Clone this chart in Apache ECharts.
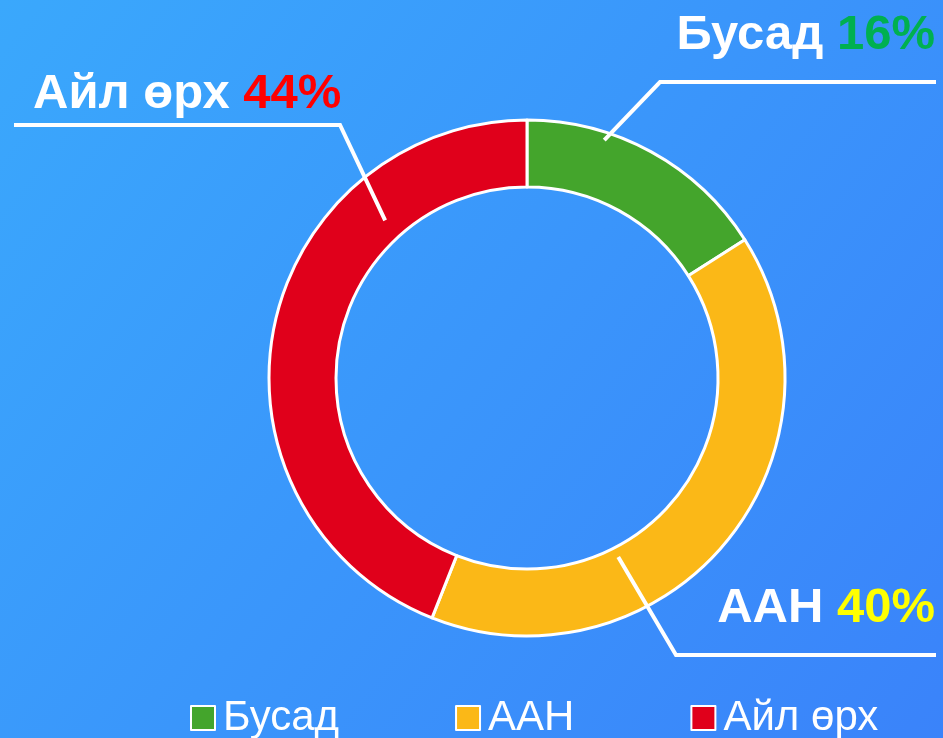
<!DOCTYPE html>
<html>
<head>
<meta charset="utf-8">
<script src="https://cdn.jsdelivr.net/npm/echarts@6/dist/echarts.min.js"></script>
<style>
    html, body { margin: 0; padding: 0; }
    #main { width: 943px; height: 738px; }
</style>
</head>
<body>
<div id="main"></div>
<script>
    // data
    var names = ['Бусад', 'ААН', 'Айл өрх'];
    var values = [16, 40, 44];
    var sliceColors = ['#44A52C', '#FBB817', '#E0001B'];
    var pctColors = ['#00B050', '#FFFF00', '#FF0000'];

    var chart = echarts.init(document.getElementById('main'));

    var cx = 527, cy = 378;
    // leader lines: start (angle from top clockwise, radius), elbow, line end x
    var guides = [
        { ang: 18, r: 250, elbow: [660, 82], endX: 936, align: 'right', tx: 935, ty: 35 },
        { ang: 153, r: 201, elbow: [676, 655], endX: 936, align: 'right', tx: 935, ty: 608 },
        { ang: 318, r: 212, elbow: [340, 125], endX: 14, align: 'left', tx: 33, ty: 94 }
    ];

    var rich = {
        n: { color: '#fff', fontSize: 49, fontWeight: 'bold', fontFamily: 'Liberation Sans' }
    };
    pctColors.forEach(function (c, i) {
        rich['v' + i] = { color: c, fontSize: 49, fontWeight: 'bold', fontFamily: 'Liberation Sans' };
    });

    var pieData = names.map(function (n, i) {
        return { name: n, value: values[i] };
    });

    var option = {
        backgroundColor: {
            type: 'linear', x: 0, y: 0, x2: 1, y2: 1,
            colorStops: [
                { offset: 0, color: '#3AA8FC' },
                { offset: 1, color: '#3A83FA' }
            ]
        },
        color: sliceColors,
        legend: {
            left: 185,
            top: 692,
            itemWidth: 24,
            itemHeight: 24,
            itemGap: 116,
            icon: 'rect',
            textStyle: { color: '#fff', fontSize: 42, fontFamily: 'Liberation Sans', padding: [0, 0, 0, 3] },
            data: names
        },
        series: [{
            // the ring
            type: 'pie',
            center: [cx, cy],
            radius: [191, 258],
            startAngle: 90,
            clockwise: true,
            itemStyle: { borderColor: '#fff', borderWidth: 3 },
            emphasis: { disabled: true },
            label: { show: false },
            labelLine: { show: false },
            data: pieData
        }, {
            // labels + leader lines drawn on top of the ring
            type: 'pie',
            z: 3,
            silent: true,
            legendHoverLink: false,
            center: [cx, cy],
            radius: [191, 258],
            startAngle: 90,
            clockwise: true,
            avoidLabelOverlap: false,
            itemStyle: { color: 'rgba(0,0,0,0)', borderWidth: 0 },
            emphasis: { disabled: true },
            label: {
                show: true,
                formatter: function (p) {
                    return '{n|' + p.name + ' }{v' + p.dataIndex + '|' + p.percent + '%}';
                },
                rich: rich
            },
            labelLine: {
                show: true,
                smooth: false,
                length: 30,
                length2: 30,
                lineStyle: { color: '#fff', width: 4 }
            },
            labelLayout: function (params) {
                var g = guides[params.dataIndex];
                var a = g.ang * Math.PI / 180;
                var start = [cx + g.r * Math.sin(a), cy - g.r * Math.cos(a)];
                return {
                    x: g.tx,
                    y: g.ty,
                    align: g.align,
                    verticalAlign: 'middle',
                    labelLinePoints: [start, g.elbow, [g.endX, g.elbow[1]]]
                };
            },
            data: pieData
        }]
    };
    chart.setOption(option);
</script>
</body>
</html>
